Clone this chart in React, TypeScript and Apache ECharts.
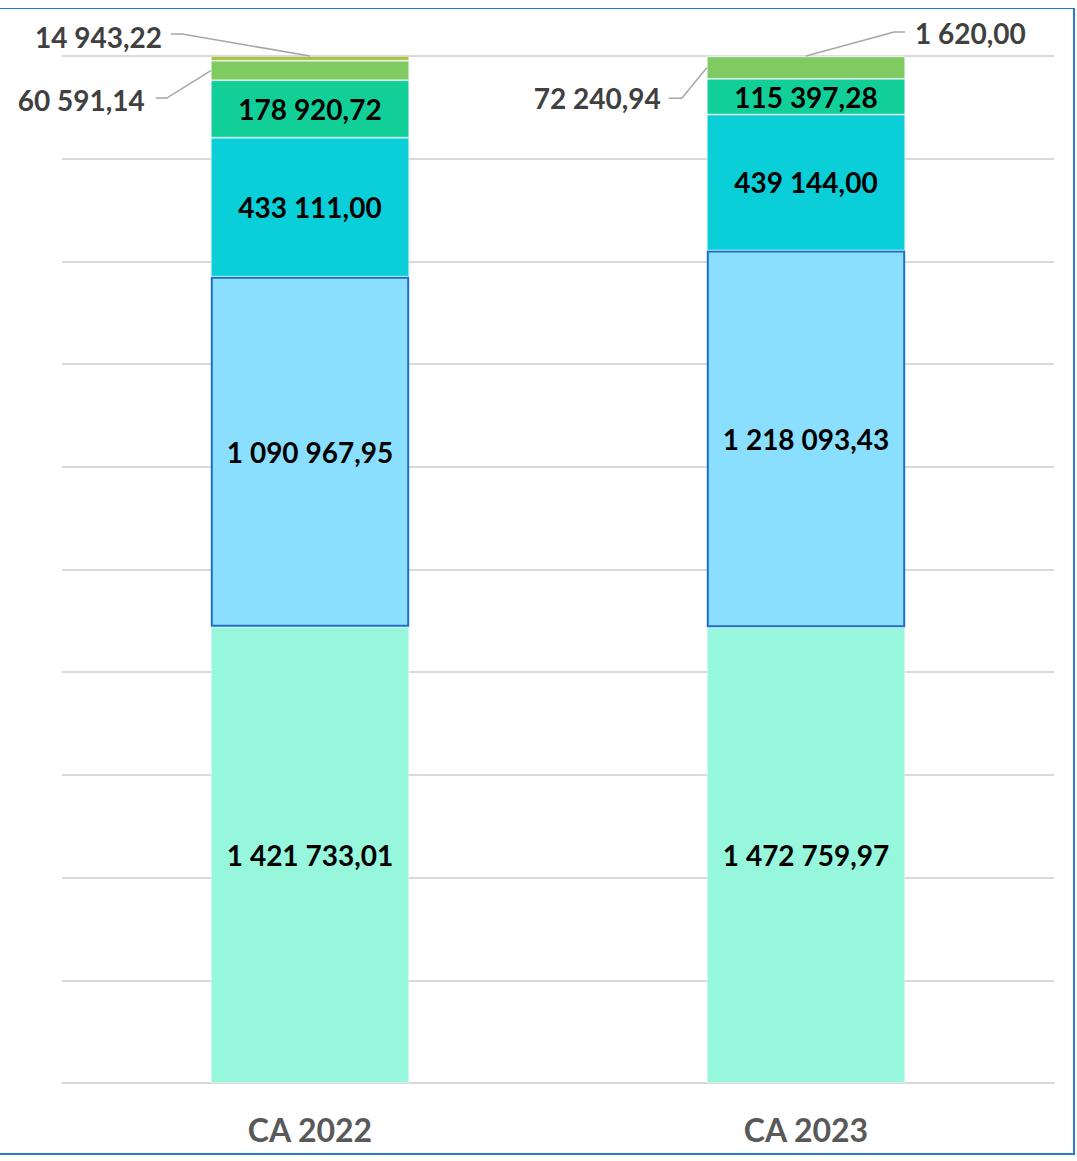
import React, { useEffect, useRef } from "react";
import * as echarts from "echarts";

const categories = ["CA 2022", "CA 2023"];
const seg1 = [1421733.01, 1472759.97];
const seg2 = [1090967.95, 1218093.43];
const seg3 = [433111.0, 439144.0];
const seg4 = [178920.72, 115397.28];
const seg5 = [60591.14, 72240.94];
const seg6 = [14943.22, 1620.0];

const segments = [seg1, seg2, seg3, seg4, seg5, seg6];
const colors = ["#96F7DC", "#8ADFFF", "#0BCFD8", "#12CF98", "#7FCB62", "#A6C34A"];
const insideLabel = [true, true, true, true, false, false];
// which segments get an outside callout (index into segments)
const calloutSegments = [5, 4];

const BAR_FRACTION = 0.4;
const FONT = "Lato, 'Open Sans', sans-serif";

const CALLOUT_LAYOUT: Record<string, any> = {
  "0-5": { anchor: "top", bend: [-128, -22], end: [-139, -22], text: [-148, -19], align: "right" },
  "0-4": { anchor: "left", bend: [-44, 27.5], end: [-55, 27.5], text: [-66, 29.5], align: "right" },
  "1-5": { anchor: "top", bend: [88, -24], end: [99, -24], text: [109, -23], align: "left" },
  "1-4": { anchor: "left", bend: [-25, 30.5], end: [-38, 30.5], text: [-46, 30.5], align: "right" },
};

function fmt(v: number): string {
  const [i, d] = v.toFixed(2).split(".");
  return i.replace(/\B(?=(\d{3})+(?!\d))/g, " ") + "," + d;
}

const totals = categories.map((_, i) => segments.reduce((s, a) => s + a[i], 0));
const pct = (v: number, i: number) => (v / totals[i]) * 100;

export default function App() {
  const ref = useRef<HTMLDivElement>(null);
  useEffect(() => {
    document.body.style.margin = "0";
    document.body.style.overflow = "hidden";
    if (!ref.current) return;
    const chart = echarts.init(ref.current, null, { renderer: "svg" });

    const barSeries = segments.map((arr, k) => ({
      type: "bar",
      name: "S" + (k + 1),
      stack: "total",
      barWidth: BAR_FRACTION * 100 + "%",
      data: arr.map((v, i) => pct(v, i)),
      itemStyle: {
        color: colors[k],
        borderColor: k === 1 ? "#1D6FC5" : "rgba(255,255,255,0.35)",
        borderWidth: k === 1 ? 2 : 1,
      },
      label: {
        show: insideLabel[k],
        position: "inside",
        formatter: (p: any) => fmt(arr[p.dataIndex]),
        color: "#000000",
        fontSize: 28,
        fontWeight: "bold",
        fontFamily: FONT,
      },
      silent: true,
    }));

    const calloutData: number[][] = [];
    categories.forEach((_, i) => {
      calloutSegments.forEach((k) => {
        let base = 0;
        for (let j = 0; j < k; j++) base += pct(segments[j][i], i);
        const top = base + pct(segments[k][i], i);
        calloutData.push([i, base, top, segments[k][i], k]);
      });
    });

    const calloutSeries = {
      type: "custom",
      coordinateSystem: "cartesian2d",
      encode: { x: 0, y: 2 },
      silent: true,
      z: 10,
      clip: false,
      data: calloutData,
      renderItem: (params: any, api: any) => {
        const cat = api.value(0);
        const base = api.value(1);
        const top = api.value(2);
        const raw = api.value(3);
        const k = api.value(4);
        const pTop = api.coord([cat, top]);
        const pBase = api.coord([cat, base]);
        const bw = api.size([1, 0])[0] * BAR_FRACTION;
        const L = CALLOUT_LAYOUT[`${cat}-${k}`];
        const ax = L.anchor === "top" ? pTop[0] : pTop[0] - bw / 2;
        const ay = L.anchor === "top" ? pTop[1] : (pTop[1] + pBase[1]) / 2;
        return {
          type: "group",
          children: [
            {
              type: "polyline",
              shape: {
                points: [
                  [ax, ay],
                  [ax + L.bend[0], ay + L.bend[1]],
                  [ax + L.end[0], ay + L.end[1]],
                ],
              },
              style: { stroke: "#A6A6A6", lineWidth: 1.5, fill: null },
            },
            {
              type: "text",
              style: {
                text: fmt(raw),
                x: ax + L.text[0],
                y: ay + L.text[1],
                align: L.align,
                verticalAlign: "middle",
                fill: "#404040",
                fontSize: 28,
                fontWeight: "bold",
                fontFamily: FONT,
              },
            },
          ],
        };
      },
    };

    chart.setOption({
      animation: false,
      grid: { left: 62, right: 23, top: 56, bottom: 78, containLabel: false },
      xAxis: {
        type: "category",
        data: categories,
        axisTick: { show: false },
        axisLine: { show: true, lineStyle: { color: "#D9D9D9", width: 2 } },
        axisLabel: {
          color: "#595959",
          fontSize: 32,
          fontWeight: "bold",
          fontFamily: FONT,
          margin: 30,
        },
      },
      yAxis: {
        type: "value",
        min: 0,
        max: 100,
        interval: 10,
        axisLabel: { show: false },
        axisLine: { show: false },
        axisTick: { show: false },
        splitLine: { show: true, lineStyle: { color: "#D9D9D9", width: 2 } },
      },
      series: [...barSeries, calloutSeries],
    });
    return () => chart.dispose();
  }, []);

  return (
    <div style={{ position: "relative", width: 1077, height: 1161, background: "#ffffff", overflow: "hidden" }}>
      <div ref={ref} style={{ position: "absolute", left: 0, top: 0, width: 1077, height: 1161 }} />
      <div
        style={{
          position: "absolute",
          left: -2,
          top: 8,
          width: 1077,
          height: 1147,
          boxSizing: "border-box",
          borderTop: "1.5px solid #2673CC",
          borderRight: "2px solid #2B7BD3",
          borderBottom: "2px solid #2B7BD3",
          pointerEvents: "none",
        }}
      />
    </div>
  );
}
